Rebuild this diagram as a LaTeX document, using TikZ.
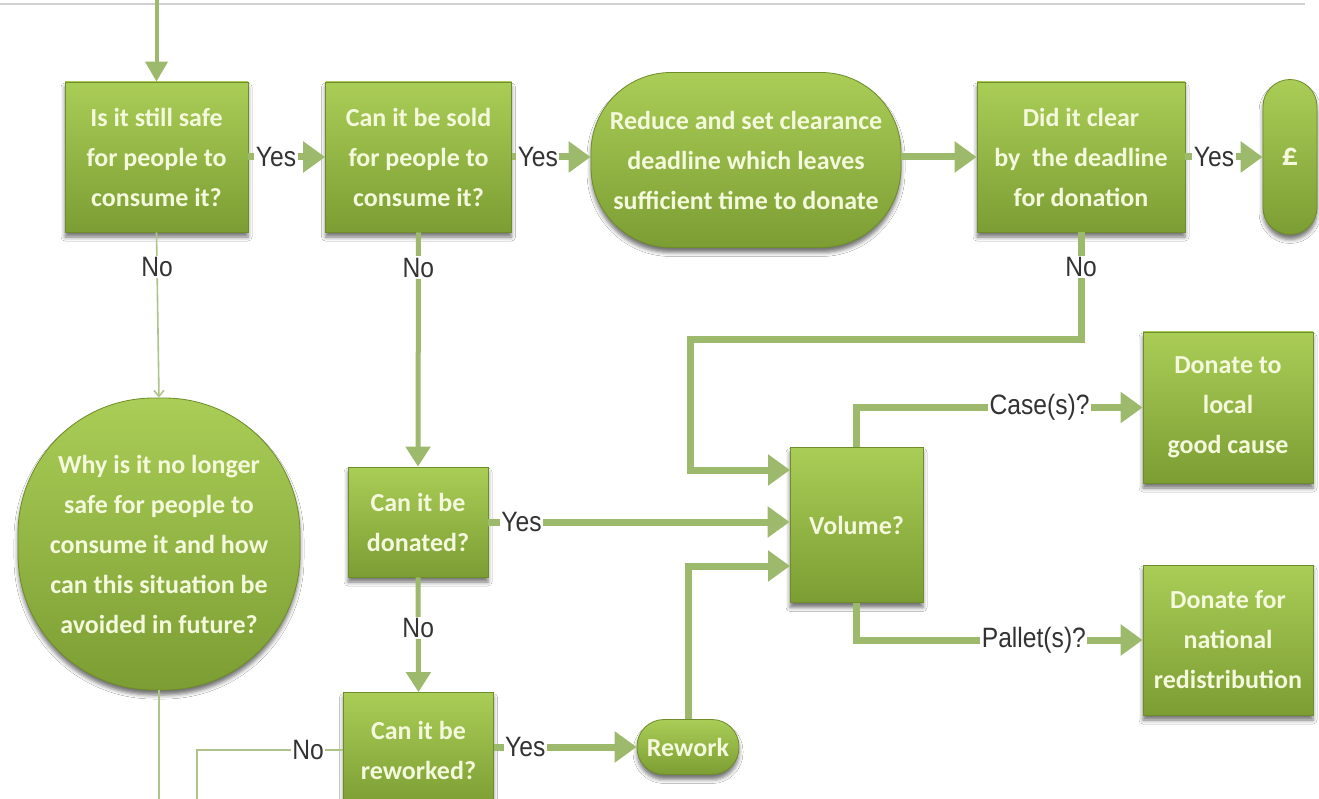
\documentclass[tikz,border=0pt]{standalone}
\usepackage{fontspec}
\setmainfont{Liberation Sans}
\newfontfamily\boxfont{Carlito}
\newfontfamily\lblfont[FakeStretch=0.88]{Liberation Sans}
\usetikzlibrary{arrows.meta,shadows.blur}
\definecolor{gtop}{HTML}{AACD57}
\definecolor{gbot}{HTML}{7C9D33}
\definecolor{gedge}{HTML}{6E8C2A}
\definecolor{gtext}{HTML}{F4F8DC}
\definecolor{arr}{HTML}{9DB96B}
\definecolor{thinc}{HTML}{AFC48A}
\definecolor{lblc}{HTML}{333333}
\tikzset{
  box/.style={draw=gedge, line width=0.8pt, top color=gtop, bottom color=gbot,
    blur shadow={shadow xshift=0pt, shadow yshift=-5pt, shadow blur radius=4pt, shadow opacity=55},
    text=gtext, font=\boxfont\bfseries\fontsize{26}{40}\selectfont, align=center, inner sep=0pt},
  pill/.style={box, rounded corners=#1},
  lbl/.style={font=\lblfont\fontsize{28}{30}\selectfont, text=lblc, fill=white, inner sep=1.5pt},
  bigarrow/.style={draw=arr, line width=7pt, -{Triangle[length=22pt,width=30pt]}},
  medarrow/.style={draw=arr, line width=5pt, -{Triangle[length=20pt,width=24pt]}},
  thinline/.style={draw=thinc, line width=1.6pt},
}
\begin{document}
\begin{tikzpicture}[x=1pt,y=-1pt]
\useasboundingbox (0,0) rectangle (1319,799);
\fill[white] (0,0) rectangle (1319,799);
\clip (0,0) rectangle (1319,799);
% top grey rule
\coordinate (ruleL) at (0,4);
\coordinate (ruleR) at (1305,4);
\draw[black!18, line width=2pt] (ruleL) -- (ruleR);

% nodes
\node[box, minimum width=183pt, minimum height=150pt] (q1) at (156.5,157) {Is it still safe\\for people to\\consume it?};
\node[box, minimum width=186pt, minimum height=150pt] (q2) at (418.5,157) {Can it be sold\\for people to\\consume it?};
\node[pill=80pt, minimum width=310pt, minimum height=175pt] (q3) at (746,160) {Reduce and set clearance\\deadline which leaves\\sufficient time to donate};
\node[box, minimum width=208pt, minimum height=150pt] (q4) at (1081,157) {Did it clear\\by\ \ the deadline\\for donation};
\node[pill=27pt, minimum width=54pt, minimum height=155pt, font=\boxfont\bfseries\fontsize{32}{36}\selectfont] (pound) at (1290,157) {£};
\node[pill=136pt, minimum width=282pt, minimum height=292pt] (why) at (159,544) {Why is it no longer\\safe for people to\\consume it and how\\can this situation be\\avoided in future?};
\node[box, minimum width=140pt, minimum height=110pt] (q5) at (418,522) {Can it be\\donated?};
\node[box, minimum width=150pt, minimum height=115pt] (q6) at (418.5,750) {Can it be\\reworked?};
\node[pill=27pt, minimum width=102pt, minimum height=55pt] (rework) at (688,747) {Rework};
\node[box, minimum width=133pt, minimum height=155pt] (vol) at (856.5,525) {Volume?};
\node[box, minimum width=170pt, minimum height=151pt] (local) at (1228,407.5) {Donate to\\local\\good cause};
\node[box, minimum width=170pt, minimum height=150pt] (natl) at (1228,640) {Donate for\\national\\redistribution};

% helper coordinates
\coordinate (top) at (156.5,0);
\coordinate (whyend) at (159,820);
\coordinate (noL) at (197,750);
\coordinate (noLend) at (197,820);
\coordinate (c1) at (1081,340);
\coordinate (c2) at (690,340);
\coordinate (c3) at (690,470);
\coordinate (in1) at (790,470);
\coordinate (in3) at (790,566);

% connectors
\draw[draw=arr, line width=4pt, -{Triangle[length=20pt,width=22pt]}] (top) -- (q1.north);
\draw[bigarrow] (q1.east) -- (q2.west) node[lbl, pos=0.36] {Yes};
\draw[bigarrow] (q2.east) -- (q3.west |- q2.east) node[lbl, pos=0.33] {Yes};
\draw[bigarrow] (q3.east |- q4.west) -- (q4.west);
\draw[bigarrow] (q4.east) -- (pound.west) node[lbl, pos=0.37] {Yes};

\draw[thinline, -{Straight Barb[length=6pt,width=10pt]}] (q1.south) -- (why.north) node[lbl, pos=0.21] {No};
\draw[thinline] (why.south) -- (whyend);

\draw[medarrow] (q2.south) -- (q5.north) node[lbl, pos=0.15] {No};
\draw[bigarrow] (q5.east) -- (q5.east -| vol.west) node[lbl, pos=0.11] {Yes};
\draw[medarrow] (q5.south) -- (q6.north) node[lbl, pos=0.44] {No};

\draw[thinline] (q6.west) -- node[lbl, pos=0.24] {No} (noL) -- (noLend);
\draw[bigarrow] (rework.west -| q6.east) -- (rework.west) node[lbl, pos=0.22] {Yes};
\draw[bigarrow] (rework.north) |- (in3);

\draw[bigarrow] (q4.south) -- node[lbl, pos=0.32] {No} (c1) -- (c2) -- (c3) -- (in1);

\draw[bigarrow] (vol.north) |- (local.west) node[lbl, pos=0.82] {Case(s)?};
\draw[bigarrow] (vol.south) |- (natl.west) node[lbl, pos=0.81] {Pallet(s)?};
\end{tikzpicture}
\end{document}
